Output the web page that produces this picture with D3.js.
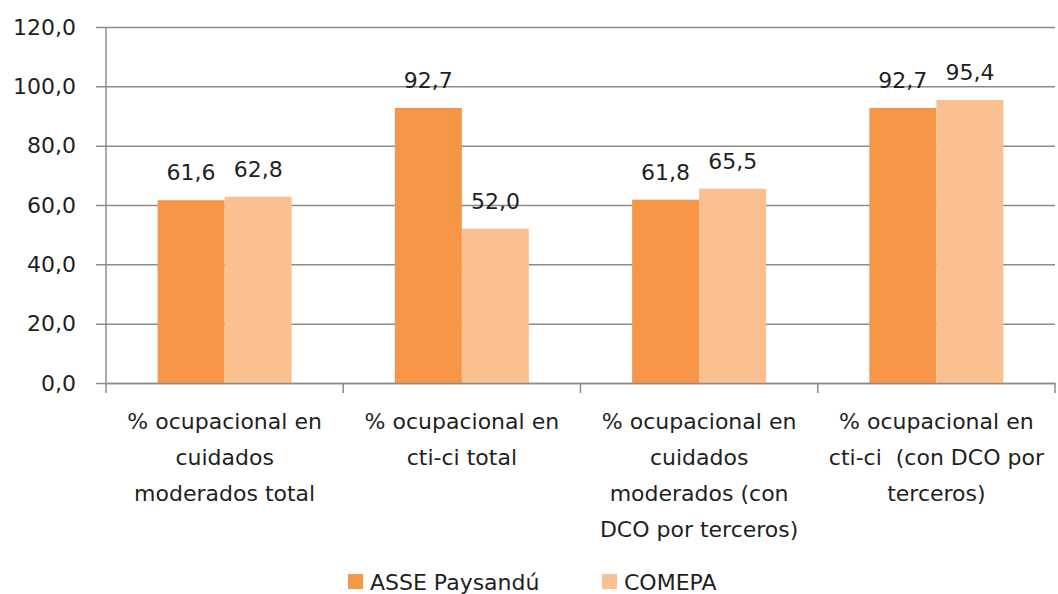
<!DOCTYPE html>
<html>
<head>
<meta charset="utf-8">
<script src="https://cdn.jsdelivr.net/npm/d3@7"></script>
<style>
  body { margin: 0; background: #fff; }
  svg { display: block; font-family: "DejaVu Sans", sans-serif; }
</style>
</head>
<body>
<svg id="chart"></svg>
<script>
// categories (each label split into its lines)
const categories = [
  ["% ocupacional en", "cuidados", "moderados total"],
  ["% ocupacional en", "cti-ci total"],
  ["% ocupacional en", "cuidados", "moderados (con", "DCO por terceros)"],
  ["% ocupacional en", "cti-ci  (con DCO por", "terceros)"]
];
const seriesNames = ["ASSE Paysandú", "COMEPA"];
const asseValues = [61.6, 92.7, 61.8, 92.7];
const comepaValues = [62.8, 52.0, 65.5, 95.4];
const yTicks = [0, 20, 40, 60, 80, 100, 120];
const seriesColors = ["#f79646", "#fac090"];

const width = 1058, height = 594;
const plotLeft = 106, plotRight = 1055, plotTop = 27, plotBottom = 383;

const svg = d3.select("#chart").attr("width", width).attr("height", height);

const fmt = v => v.toFixed(1).replace(".", ",");

/* Scales */
const y = d3.scaleLinear().domain([0, 120]).range([plotBottom, plotTop]);
const x0 = d3.scaleBand().domain(d3.range(categories.length)).range([plotLeft, plotRight]);
const gap = x0.bandwidth() * 0.435;
const x1 = d3.scaleBand().domain(d3.range(seriesNames.length))
  .range([gap / 2, x0.bandwidth() - gap / 2]);

/* Gridlines + y axis */
const yAxis = d3.axisLeft(y).tickValues(yTicks).tickSize(plotRight - plotLeft + 10).tickFormat(fmt);
const gy = svg.append("g").attr("transform", `translate(${plotRight},0)`).call(yAxis);
gy.select(".domain").remove();
gy.selectAll(".tick line").attr("stroke", "#8c8c8c").attr("stroke-width", 1.5);
gy.selectAll(".tick text")
  .attr("x", -(plotRight - plotLeft) - 30)
  .attr("font-family", "DejaVu Sans")
  .attr("font-size", 22).attr("fill", "#1f1f1f");

// vertical axis line
svg.append("line")
  .attr("x1", plotLeft).attr("x2", plotLeft).attr("y1", plotTop).attr("y2", plotBottom)
  .attr("stroke", "#8c8c8c").attr("stroke-width", 1.5);

/* Bars */
const data = [asseValues, comepaValues];
const groups = svg.selectAll(".grp").data(categories).enter().append("g")
  .attr("transform", (d, i) => `translate(${x0(i)},0)`);

groups.selectAll("rect")
  .data((d, i) => data.map((vals, s) => ({ s, v: vals[i] })))
  .enter().append("rect")
  .attr("x", d => x1(d.s))
  .attr("y", d => y(d.v))
  .attr("width", x1.bandwidth())
  .attr("height", d => plotBottom - y(d.v))
  .attr("fill", d => seriesColors[d.s]);

groups.selectAll(".val")
  .data((d, i) => data.map((vals, s) => ({ s, v: vals[i] })))
  .enter().append("text")
  .attr("x", d => x1(d.s) + x1.bandwidth() / 2)
  .attr("y", d => y(d.v) - 20)
  .attr("text-anchor", "middle")
  .attr("font-size", 22).attr("fill", "#1f1f1f")
  .text(d => fmt(d.v));

/* X axis */
const xAxis = d3.axisBottom(x0).tickValues([]).tickSizeOuter(0);
const gx = svg.append("g").attr("transform", `translate(0,${plotBottom})`).call(xAxis);
gx.select(".domain").attr("stroke", "#8c8c8c").attr("stroke-width", 1.5);
const edges = d3.range(categories.length + 1).map(i => plotLeft + i * x0.step());
svg.selectAll(".xtick").data(edges).enter().append("line")
  .attr("x1", d => d).attr("x2", d => d)
  .attr("y1", plotBottom).attr("y2", plotBottom + 10)
  .attr("stroke", "#8c8c8c").attr("stroke-width", 1.5);

svg.selectAll(".cat").data(categories).enter().append("text")
  .attr("text-anchor", "middle")
  .attr("font-size", 22).attr("fill", "#1f1f1f")
  .style("white-space", "pre")
  .attr("transform", (d, i) => `translate(${x0(i) + x0.bandwidth() / 2},429)`)
  .selectAll("tspan").data(d => d).enter().append("tspan")
  .attr("x", 0).attr("y", (d, j) => j * 36)
  .text(d => d);

/* Legend */
const legendX = [348, 602];
const lg = svg.selectAll(".leg").data(seriesNames).enter().append("g")
  .attr("transform", (d, i) => `translate(${legendX[i]},574)`);
lg.append("rect").attr("width", 15).attr("height", 15).attr("fill", (d, i) => seriesColors[i]);
lg.append("text").attr("x", 22).attr("y", 16)
  .attr("font-size", 22).attr("fill", "#1f1f1f").text(d => d);
</script>
</body>
</html>
